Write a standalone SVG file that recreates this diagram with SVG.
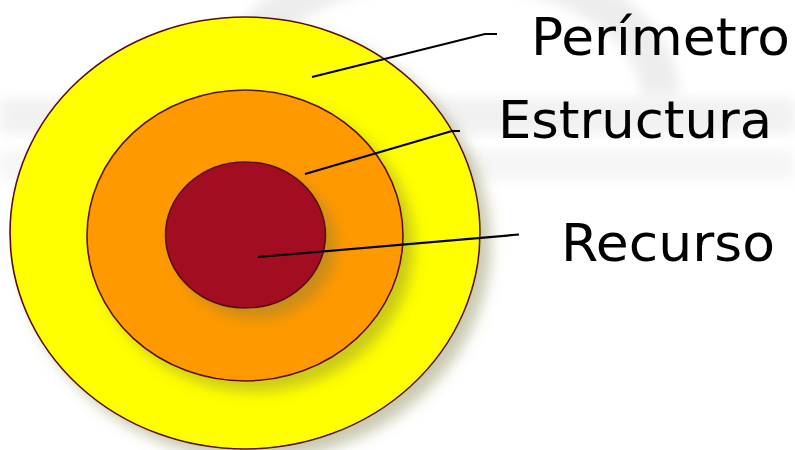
<svg xmlns="http://www.w3.org/2000/svg" width="795" height="450" viewBox="0 0 795 450">
  <defs>
    <filter id="shadow" x="-20%" y="-20%" width="150%" height="150%">
      <feDropShadow dx="10" dy="10" stdDeviation="7" flood-color="#7a7a40" flood-opacity="0.4"/>
    </filter>
    <filter id="blur" x="-10%" y="-50%" width="120%" height="200%">
      <feGaussianBlur stdDeviation="6"/>
    </filter>
  </defs>
  <style>
    .ring { stroke: #5a0a14; stroke-width: 1.6; }
    .lead { fill: none; stroke: #000; stroke-width: 2.2; stroke-linecap: butt; stroke-linejoin: round; }
    .label { font-family: "DejaVu Sans", Verdana, sans-serif; font-size: 52px; fill: #000; }
  </style>

  <!-- background -->
  <rect x="0" y="0" width="795" height="450" fill="#ffffff"/>
  <g id="watermark">
    <rect x="0" y="98" width="795" height="36" fill="#e6e6e6" filter="url(#blur)" opacity="0.55"/>
    <path d="M 230 95 A 215 130 0 0 1 660 95" fill="none" stroke="#d8d8d8" stroke-width="38" opacity="0.45" filter="url(#blur)"/>
    <rect x="0" y="150" width="795" height="30" fill="#f0f0f0" filter="url(#blur)" opacity="0.6"/>
  </g>

  <!-- nodes -->
  <g id="perimetro">
    <ellipse cx="245" cy="233" rx="235" ry="216" fill="#ffff00" class="ring" filter="url(#shadow)"/>
  </g>
  <g id="estructura">
    <ellipse cx="245" cy="235.5" rx="158" ry="145.5" fill="#ff9900" class="ring" filter="url(#shadow)"/>
  </g>
  <g id="recurso">
    <ellipse cx="245.5" cy="235" rx="80" ry="73" fill="#a30e20" class="ring" filter="url(#shadow)"/>
  </g>

  <!-- connectors -->
  <g id="connectors">
    <polyline class="lead" points="312,77 485,34 497,34"/>
    <polyline class="lead" points="305,174 452,131 460,131"/>
    <polyline class="lead" points="258,257 519,234.5"/>
  </g>

  <!-- labels -->
  <g id="labels">
    <text class="label" x="531" y="55" textLength="259" lengthAdjust="spacingAndGlyphs">Perímetro</text>
    <text class="label" x="498" y="138" textLength="274" lengthAdjust="spacingAndGlyphs">Estructura</text>
    <text class="label" x="561" y="261" textLength="214" lengthAdjust="spacingAndGlyphs">Recurso</text>
  </g>
</svg>
